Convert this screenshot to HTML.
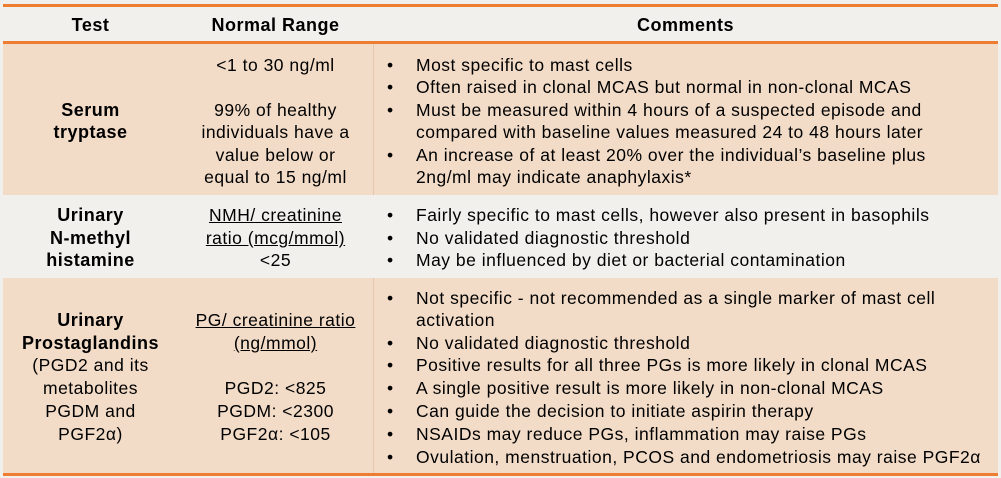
<!DOCTYPE html>
<html><head><meta charset="utf-8">
<style>
body{margin:0;width:1001px;height:478px;background:#f1f0ec;position:relative;overflow:hidden;font-family:"Liberation Sans",sans-serif;font-size:17.5px;letter-spacing:0.5px;color:#000}
.bg{position:absolute;left:3px;width:995px}
.hl{position:absolute;left:3px;width:995px;height:3px;background:#ed7d31}
.vl{position:absolute;left:373px;width:1px;background:#e6c7ad}
.t{position:absolute;line-height:22px;white-space:nowrap;transform:translateY(-11px)}
.c1{left:3px;width:175px;text-align:center}
.c2{left:178px;width:195px;text-align:center}
.b{left:387px}
.x{left:416px}
.h{font-weight:bold;font-size:18px}
u{text-decoration:underline}
</style></head><body>
<div class="bg" style="top:6px;height:37px;background:#f1f0ec"></div>
<div class="bg" style="top:44px;height:151px;background:#f2dcc8"></div>
<div class="bg" style="top:195px;height:83px;background:#f1f0ec"></div>
<div class="bg" style="top:278px;height:196px;background:#f2dcc8"></div>
<div class="vl" style="top:44px;height:151px"></div>
<div class="vl" style="top:278px;height:196px"></div>
<div class="hl" style="top:4px"></div>
<div class="hl" style="top:41px"></div>
<div class="hl" style="top:473px"></div>

<div class="t c1 h" style="top:25px">Test</div>
<div class="t c2 h" style="top:25px">Normal Range</div>
<div class="t h" style="top:25px;left:373px;width:625px;text-align:center">Comments</div>

<div class="t c1 h" style="top:110px">Serum</div>
<div class="t c1 h" style="top:132px">tryptase</div>
<div class="t c2" style="top:65px">&lt;1 to 30 ng/ml</div>
<div class="t c2" style="top:110px">99% of healthy</div>
<div class="t c2" style="top:132px">individuals have a</div>
<div class="t c2" style="top:155px">value below or</div>
<div class="t c2" style="top:177px">equal to 15 ng/ml</div>
<div class="t b" style="top:65px">•</div><div class="t x" style="top:65px">Most specific to mast cells</div>
<div class="t b" style="top:87px">•</div><div class="t x" style="top:87px">Often raised in clonal MCAS but normal in non-clonal MCAS</div>
<div class="t b" style="top:110px">•</div><div class="t x" style="top:110px">Must be measured within 4 hours of a suspected episode and</div>
<div class="t x" style="top:132px">compared with baseline values measured 24 to 48 hours later</div>
<div class="t b" style="top:155px">•</div><div class="t x" style="top:155px">An increase of at least 20% over the individual’s baseline plus</div>
<div class="t x" style="top:177px">2ng/ml may indicate anaphylaxis*</div>

<div class="t c1 h" style="top:215px">Urinary</div>
<div class="t c1 h" style="top:238px">N-methyl</div>
<div class="t c1 h" style="top:260px">histamine</div>
<div class="t c2" style="top:215px"><u>NMH/ creatinine</u></div>
<div class="t c2" style="top:238px"><u>ratio (mcg/mmol)</u></div>
<div class="t c2" style="top:260px">&lt;25</div>
<div class="t b" style="top:215px">•</div><div class="t x" style="top:215px">Fairly specific to mast cells, however also present in basophils</div>
<div class="t b" style="top:238px">•</div><div class="t x" style="top:238px">No validated diagnostic threshold</div>
<div class="t b" style="top:260px">•</div><div class="t x" style="top:260px">May be influenced by diet or bacterial contamination</div>

<div class="t c1 h" style="top:320px">Urinary</div>
<div class="t c1 h" style="top:343px">Prostaglandins</div>
<div class="t c1" style="top:365px">(PGD2 and its</div>
<div class="t c1" style="top:388px">metabolites</div>
<div class="t c1" style="top:411px">PGDM and</div>
<div class="t c1" style="top:434px">PGF2α)</div>
<div class="t c2" style="top:320px"><u>PG/ creatinine ratio</u></div>
<div class="t c2" style="top:343px"><u>(ng/mmol)</u></div>
<div class="t c2" style="top:388px">PGD2: &lt;825</div>
<div class="t c2" style="top:411px">PGDM: &lt;2300</div>
<div class="t c2" style="top:434px">PGF2α: &lt;105</div>
<div class="t b" style="top:298px">•</div><div class="t x" style="top:298px">Not specific - not recommended as a single marker of mast cell</div>
<div class="t x" style="top:320px">activation</div>
<div class="t b" style="top:343px">•</div><div class="t x" style="top:343px">No validated diagnostic threshold</div>
<div class="t b" style="top:365px">•</div><div class="t x" style="top:365px">Positive results for all three PGs is more likely in clonal MCAS</div>
<div class="t b" style="top:388px">•</div><div class="t x" style="top:388px">A single positive result is more likely in non-clonal MCAS</div>
<div class="t b" style="top:411px">•</div><div class="t x" style="top:411px">Can guide the decision to initiate aspirin therapy</div>
<div class="t b" style="top:434px">•</div><div class="t x" style="top:434px">NSAIDs may reduce PGs, inflammation may raise PGs</div>
<div class="t b" style="top:457px">•</div><div class="t x" style="top:457px">Ovulation, menstruation, PCOS and endometriosis may raise PGF2α</div>
</body></html>
